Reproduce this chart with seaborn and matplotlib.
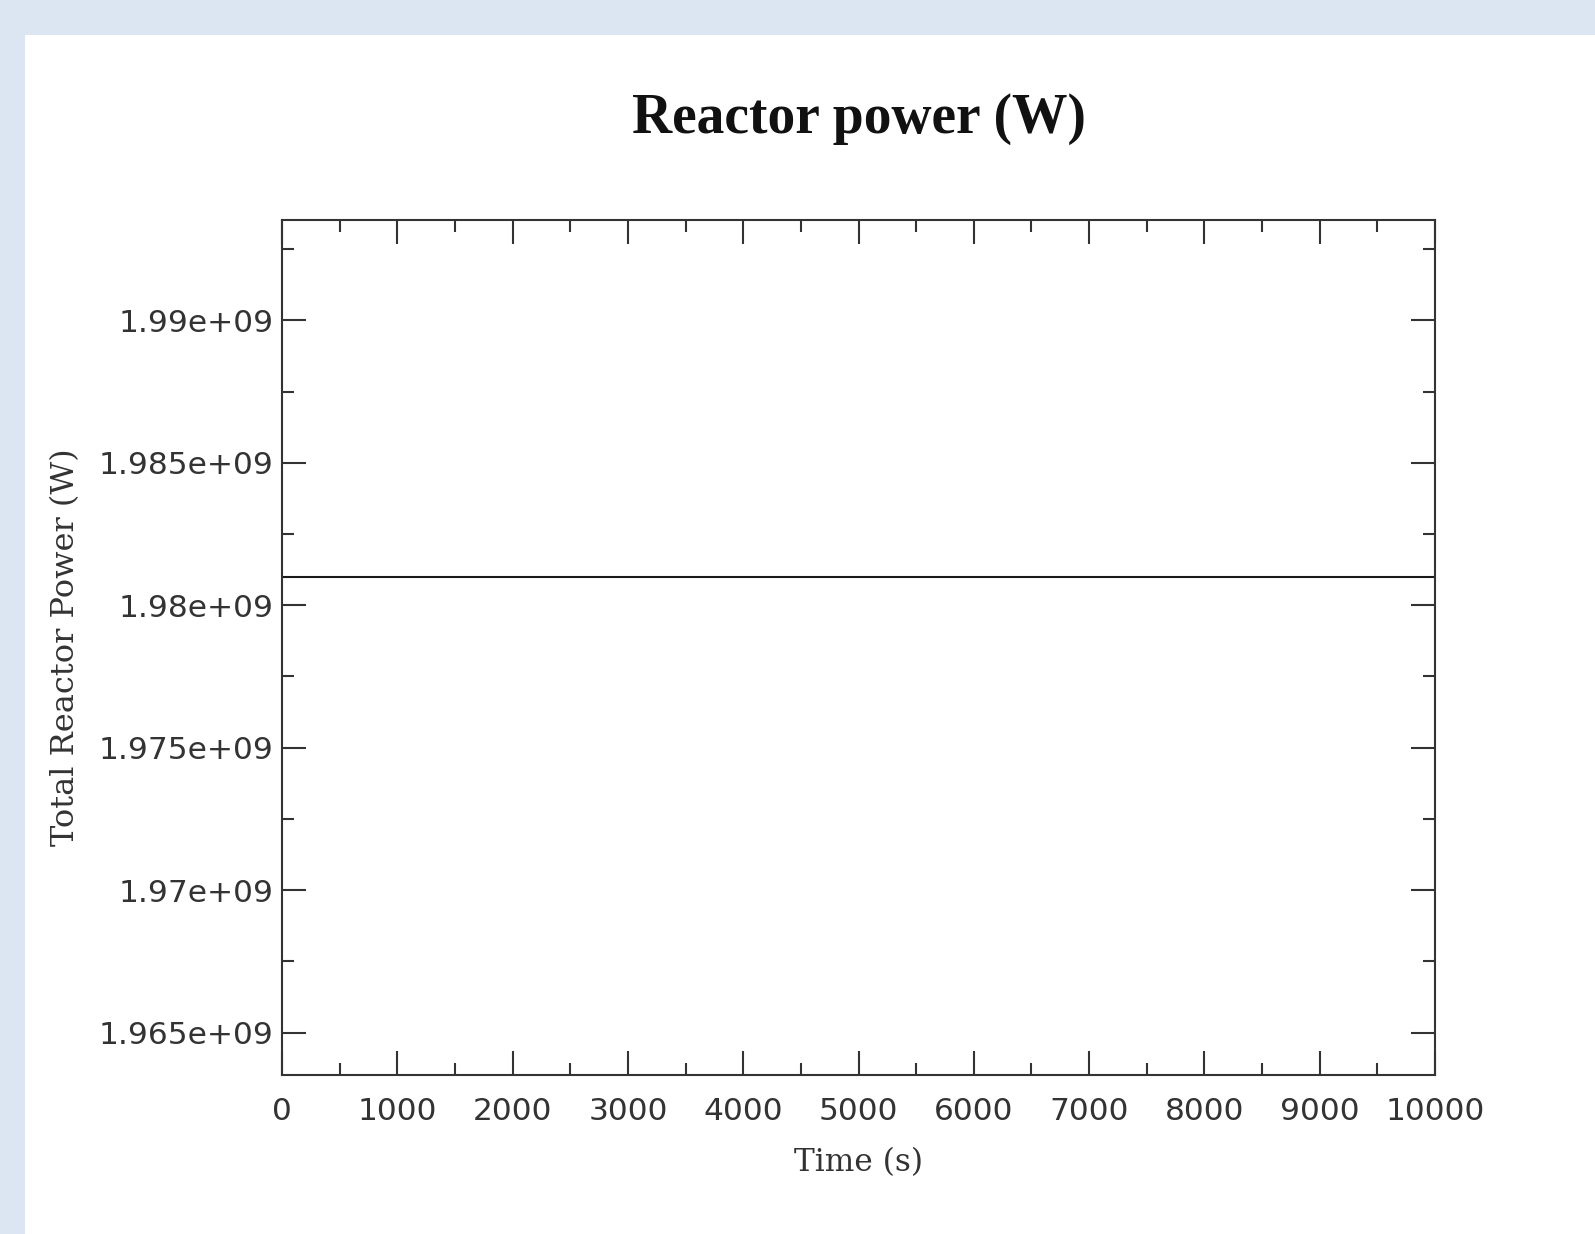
import matplotlib
matplotlib.use("Agg")
import matplotlib.pyplot as plt
import matplotlib.ticker as mticker
from matplotlib.patches import Rectangle
import pandas as pd
import seaborn as sns

# Data
time_s = [0, 10000]
power_w = [1.981e9, 1.981e9]

df = pd.DataFrame({"Time (s)": time_s, "Total Reactor Power (W)": power_w})

sns.set_style("white")
plt.rcParams["font.family"] = ["DejaVu Sans"]

fig = plt.figure(figsize=(15.95, 12.34), dpi=100)
fig.patch.set_facecolor("#dce6f2")
# white panel inside the light blue frame
fig.add_artist(Rectangle((25 / 1595, 0), 1, (1234 - 35) / 1234,
                         transform=fig.transFigure, facecolor="white",
                         edgecolor="none", zorder=-1))

ax = fig.add_axes([282 / 1595, 1 - 1075 / 1234, (1435 - 282) / 1595, (1075 - 220) / 1234])
sns.lineplot(data=df, x="Time (s)", y="Total Reactor Power (W)", ax=ax,
             color="#1a1a1a", linewidth=1.5)

ax.set_xlim(0, 10000)
ax.set_ylim(1.963511e9, 1.993525e9)
ax.xaxis.set_major_locator(mticker.MultipleLocator(1000))
ax.xaxis.set_minor_locator(mticker.MultipleLocator(500))
ax.yaxis.set_major_locator(mticker.MultipleLocator(0.005e9))
ax.yaxis.set_minor_locator(mticker.MultipleLocator(0.0025e9))
ax.yaxis.set_major_formatter(mticker.FuncFormatter(lambda v, p: "%g" % v))
ax.xaxis.set_major_formatter(mticker.FuncFormatter(lambda v, p: "%d" % v))

ax.tick_params(which="both", direction="in", top=True, right=True,
               bottom=True, left=True, color="#333333", width=1.5)
ax.tick_params(which="major", length=17)
ax.tick_params(which="minor", length=8.5)
ax.tick_params(axis="x", which="major", labelsize=22.5, pad=16, labelcolor="#333333")
ax.tick_params(axis="y", which="major", labelsize=22.5, pad=6, labelcolor="#333333")

for s in ax.spines.values():
    s.set_visible(True)
    s.set_color("#333333")
    s.set_linewidth(1.5)

ax.set_xlabel("Time (s)", family="DejaVu Serif", fontsize=22.5, color="#333333", labelpad=15)
ax.set_ylabel("Total Reactor Power (W)", family="DejaVu Serif", fontsize=23,
              color="#333333", labelpad=13)
ax.set_title("Reactor power (W)", family="Liberation Serif", fontweight="bold",
             fontsize=40, color="#111111", pad=63)

fig.savefig("out.png", dpi=100, facecolor=fig.get_facecolor())
